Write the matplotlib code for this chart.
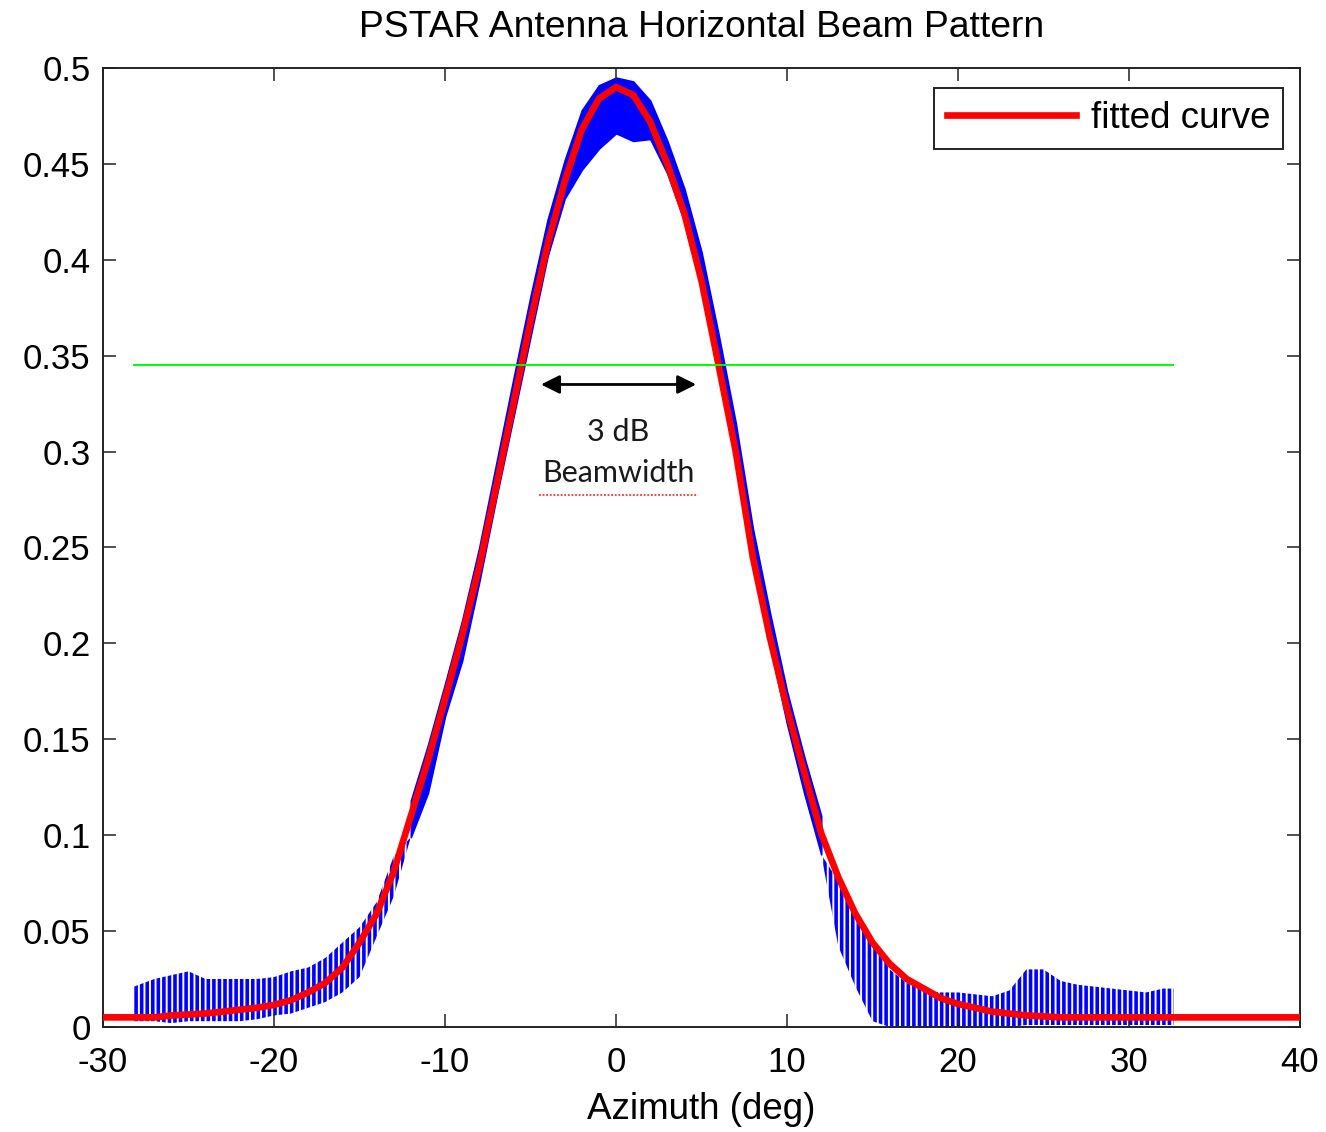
import numpy as np
import matplotlib
matplotlib.use('Agg')
import matplotlib.pyplot as plt

plt.rcParams['font.family'] = ['Liberation Sans', 'DejaVu Sans']
plt.rcParams['axes.unicode_minus'] = False

# fitted curve, every degree
fit_az = list(range(-30, 41))
fit_val = [0.005, 0.005, 0.005, 0.005, 0.006, 0.0065, 0.007, 0.008, 0.009, 0.010,
           0.0115, 0.014, 0.018, 0.023, 0.031, 0.044, 0.059, 0.081, 0.110, 0.139,
           0.171, 0.204, 0.240, 0.282, 0.325, 0.368, 0.408, 0.441, 0.468, 0.484,
           0.490, 0.486, 0.472, 0.450, 0.424, 0.389, 0.345, 0.300, 0.245, 0.203,
           0.166, 0.133, 0.101, 0.078, 0.059, 0.044, 0.033, 0.025, 0.020, 0.015,
           0.012, 0.010, 0.008, 0.007, 0.006, 0.0055, 0.005, 0.005, 0.005, 0.005,
           0.005, 0.005, 0.005, 0.005, 0.005, 0.005, 0.005, 0.005, 0.005, 0.005,
           0.005]

# measured pattern: top and bottom of the noisy trace
meas_az = [-28.2] + list(range(-27, 33)) + [32.6]
meas_hi = [0.021, 0.025, 0.027, 0.029, 0.025, 0.025, 0.025, 0.025, 0.026, 0.029,
           0.031, 0.036, 0.044, 0.052, 0.065, 0.089, 0.118, 0.147, 0.179, 0.212,
           0.250, 0.294, 0.338, 0.381, 0.421, 0.452, 0.478, 0.491, 0.495, 0.493,
           0.483, 0.462, 0.437, 0.404, 0.361, 0.315, 0.260, 0.216, 0.175, 0.141,
           0.110, 0.076, 0.062, 0.045, 0.030, 0.023, 0.019, 0.018, 0.018, 0.017,
           0.016, 0.019, 0.030, 0.030, 0.024, 0.022, 0.021, 0.020, 0.019, 0.018,
           0.020, 0.020]
meas_lo = [0.003, 0.003, 0.002, 0.003, 0.003, 0.003, 0.003, 0.004, 0.006, 0.007,
           0.010, 0.013, 0.018, 0.026, 0.047, 0.068, 0.099, 0.122, 0.162, 0.191,
           0.232, 0.276, 0.318, 0.360, 0.402, 0.432, 0.447, 0.458, 0.466, 0.462,
           0.463, 0.445, 0.420, 0.385, 0.342, 0.296, 0.242, 0.199, 0.158, 0.122,
           0.090, 0.042, 0.021, 0.003, 0.0, 0.0, 0.0, 0.0, 0.0, 0.0,
           0.0, 0.0, 0.001, 0.001, 0.001, 0.001, 0.001, 0.001, 0.001, 0.001,
           0.001, 0.001]

half_power = 0.345
xticks = [-30, -20, -10, 0, 10, 20, 30, 40]
yticks = [0, 0.05, 0.1, 0.15, 0.2, 0.25, 0.3, 0.35, 0.4, 0.45, 0.5]
ytick_labels = ['0', '0.05', '0.1', '0.15', '0.2', '0.25', '0.3', '0.35', '0.4', '0.45', '0.5']

fig = plt.figure(figsize=(13.26, 11.32), dpi=100)
ax = fig.add_axes([0.0777, 0.0928, 0.9027, 0.8471])

az = np.array(meas_az)
hi = np.array(meas_hi)
lo = np.array(meas_lo)
plt.rcParams['hatch.linewidth'] = 2.6
main = np.abs(az) <= 12
ax.fill_between(az, lo, hi, where=main, color='#0000ff', lw=1.2, interpolate=True)
ax.fill_between(az, lo, hi, where=~main, facecolor='none', edgecolor='#0000ff',
                hatch='|||', lw=0, interpolate=True)

ax.plot([az[0], az[-1]], [half_power, half_power], color='#00ff00', lw=1.4, zorder=4)
ax.plot(fit_az, fit_val, color='#ff0000', lw=4.8, label='fitted curve', zorder=3)

ax.annotate('', xy=(4.85, 0.335), xytext=(-4.55, 0.335),
            arrowprops=dict(arrowstyle='<|-|>', color='black', lw=2, mutation_scale=28))
ax.text(0.15, 0.310, '3 dB', ha='center', va='center', fontsize=22,
        family=['Lato', 'DejaVu Sans'], color='#1a1a1a')
ax.text(0.15, 0.289, 'Beamwidth', ha='center', va='center', fontsize=22,
        family=['Lato', 'DejaVu Sans'], color='#1a1a1a')
ax.plot([-4.5, 4.8], [0.2775, 0.2775], color='#ff3030', lw=1.3, ls=(0, (1, 1)))

ax.set_xlim(-30, 40)
ax.set_ylim(0, 0.5)
ax.set_xticks(xticks)
ax.set_yticks(yticks)
ax.set_yticklabels(ytick_labels)
ax.tick_params(direction='in', length=9.5, width=1.1, top=True, right=True,
               labelsize=25, colors='#222222', labelcolor='black')
ax.tick_params(axis='x', pad=14)
ax.tick_params(axis='y', pad=9)
for s in ax.spines.values():
    s.set_linewidth(1.4)
    s.set_color('#222222')

ax.set_xlabel('Azimuth (deg)', fontsize=26.5, labelpad=9)
ax.set_title('PSTAR Antenna Horizontal Beam Pattern', fontsize=26.8, pad=22)

leg = ax.legend(loc='upper right', bbox_to_anchor=(0.986, 0.979), borderaxespad=0,
                fontsize=26.5, handlelength=3.5, handletextpad=0.4, borderpad=0.35,
                fancybox=False, framealpha=1, edgecolor='#222222')
leg.get_frame().set_linewidth(1.4)

plt.savefig('out.png', dpi=100)
